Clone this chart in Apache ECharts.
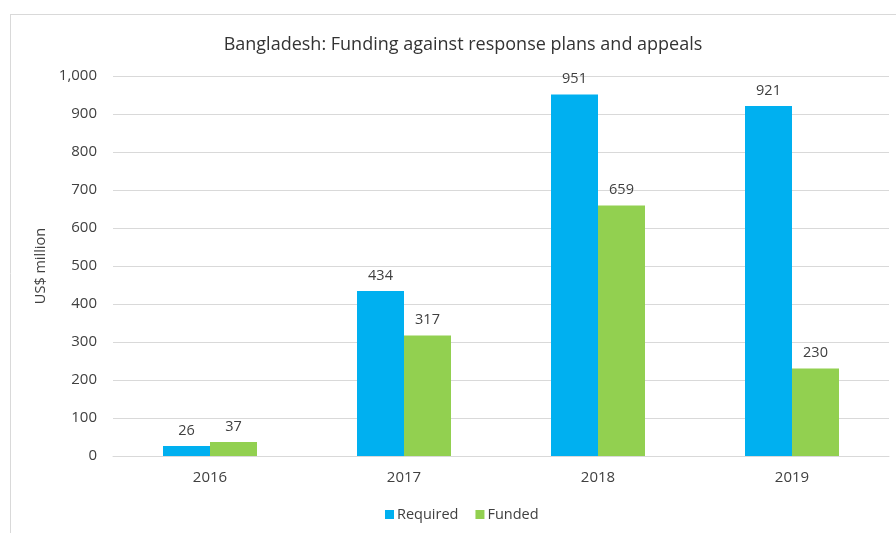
<!DOCTYPE html>
<html>
<head>
<meta charset="utf-8">
<script src="https://cdn.jsdelivr.net/npm/echarts@6/dist/echarts.min.js"></script>
<style>html,body{margin:0;padding:0;background:#fff;}#c{width:896px;height:533px;}</style>
</head>
<body>
<div id="c"></div>
<script>
var categories = ['2016', '2017', '2018', '2019'];
var required = [26, 434, 951, 921];
var funded = [37, 317, 659, 230];
var yTicks = [0, 100, 200, 300, 400, 500, 600, 700, 800, 900, 1000];

var chart = echarts.init(document.getElementById('c'));
var font = '"Open Sans", "Noto Sans", sans-serif';
var labelStyle = { show: true, position: 'top', distance: 8, color: '#404040', fontSize: 14.5, fontFamily: font };
chart.setOption({
  animation: false,
  textStyle: { fontFamily: font },
  title: {
    text: 'Bangladesh: Funding against response plans and appeals',
    left: 458, top: 31, textAlign: 'center',
    textStyle: { fontSize: 18, fontWeight: 'normal', color: '#333', fontFamily: font }
  },
  graphic: [
    { type: 'line', shape: { x1: 10, y1: 14.5, x2: 896, y2: 14.5 }, style: { stroke: '#d9d9d9', lineWidth: 1 } },
    { type: 'line', shape: { x1: 10.5, y1: 14, x2: 10.5, y2: 533 }, style: { stroke: '#d9d9d9', lineWidth: 1 } }
  ],
  legend: {
    data: ['Required', 'Funded'],
    top: 502, left: 380,
    itemWidth: 9, itemHeight: 9, itemGap: 17,
    icon: 'rect',
    textStyle: { fontSize: 14.5, color: '#404040', fontFamily: font, padding: [0, 0, 0, -2] }
  },
  grid: { left: 113, right: 7, top: 76, bottom: 77, containLabel: false },
  xAxis: {
    type: 'category', data: categories,
    axisLine: { lineStyle: { color: '#d9d9d9' } },
    axisTick: { show: false },
    axisLabel: { color: '#404040', fontSize: 15, margin: 14, fontFamily: font }
  },
  yAxis: {
    type: 'value', min: yTicks[0], max: yTicks[yTicks.length - 1], interval: 100,
    name: 'US$ million', nameLocation: 'middle', nameGap: 59, nameRotate: 90,
    nameTextStyle: { color: '#404040', fontSize: 14.5, fontFamily: font },
    axisLine: { show: false }, axisTick: { show: false },
    axisLabel: { color: '#404040', fontSize: 15, margin: 16, fontFamily: font,
      formatter: function (v) { return v.toLocaleString('en-US'); } },
    splitLine: { lineStyle: { color: '#d9d9d9', width: 1 } }
  },
  series: [
    { name: 'Required', type: 'bar', data: required, barWidth: 47, barGap: '0%',
      itemStyle: { color: '#00b0f0' }, label: labelStyle },
    { name: 'Funded', type: 'bar', data: funded, barWidth: 47, barGap: '0%',
      itemStyle: { color: '#92d050' }, label: labelStyle }
  ]
});
</script>
</body>
</html>
